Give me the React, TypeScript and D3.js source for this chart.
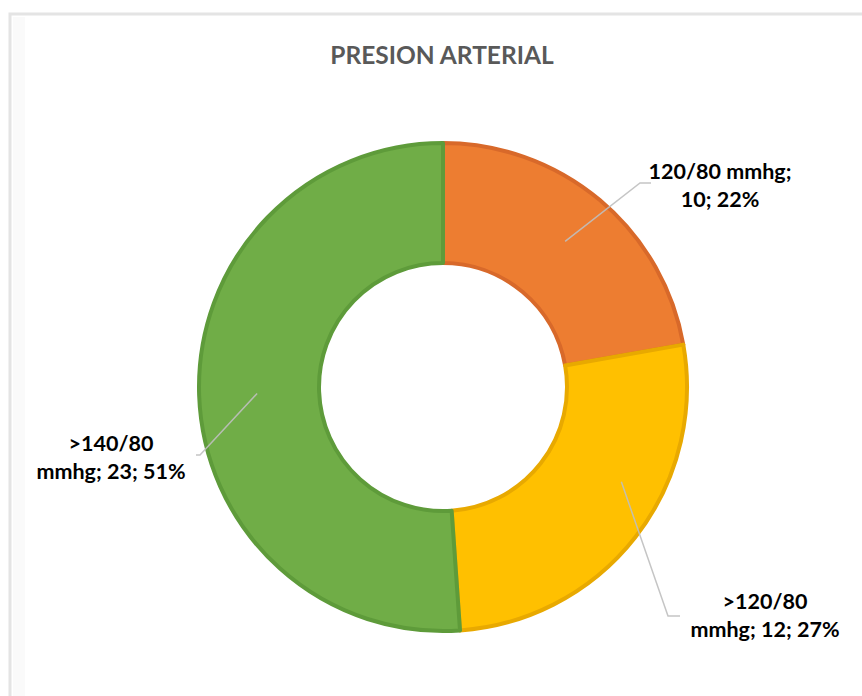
import React from "react";
import * as d3 from "d3";

// Blood pressure groups and patient counts
const categories = ["120/80 mmhg", ">120/80 mmhg", ">140/80 mmhg"];
const counts = [10, 12, 23];
const fills = ["#ED7D31", "#FFC000", "#70AD47"];
const edges = ["#D8692A", "#E8A900", "#5E9B3A"];
const title = "PRESION ARTERIAL";

// Label layout: text lines, centre of the text block, leader elbow
const labelLines = [
  ["120/80 mmhg;", "10; 22%"],
  [">120/80", "mmhg; 12; 27%"],
  [">140/80", "mmhg; 23; 51%"],
];
const labelCenters: [number, number][] = [
  [720, 172],
  [765, 602],
  [111, 444],
];
const leaderElbows: [number, number, number][] = [
  // elbow x, elbow y, end x
  [640, 183, 651],
  [668, 616, 680],
  [200, 455, 196],
];
// leader start: shift from slice mid-angle (degrees) and radius
const leaderStarts: [number, number][] = [
  [0, 190],
  [-10, 202],
  [0, 186],
];

const W = 862;
const H = 696;
const cx = 443;
const cy = 387;
const outerR = 244;
const innerR = 124;

export default function App() {
  const total = d3.sum(counts);
  const pie = d3
    .pie<number>()
    .sort(null)
    .value((d) => d);
  const arcs = pie(counts);
  const arcGen = d3
    .arc<d3.PieArcDatum<number>>()
    .innerRadius(innerR)
    .outerRadius(outerR);

  return (
    <svg
      width={W}
      height={H}
      style={{ position: "absolute", left: 0, top: 0, background: "#fff" }}
      fontFamily="Lato, Carlito, Calibri, sans-serif"
    >
      {/* chart frame */}
      <rect x={10} y={14} width={W + 20} height={H + 20} fill="#fff" stroke="#e4e4e4" strokeWidth={3} />
      <rect x={13} y={17} width={12} height={H} fill="#fafafa" />

      <text x={442} y={64} textAnchor="middle" fontSize={24.5} fontWeight="bold" fill="#595959">
        {title}
      </text>

      <g transform={`translate(${cx},${cy})`}>
        {arcs.map((a, i) => (
          <path
            key={categories[i]}
            d={arcGen(a) || ""}
            fill={fills[i]}
            stroke={edges[i]}
            strokeWidth={4}
            strokeLinejoin="round"
          />
        ))}
      </g>

      {arcs.map((a, i) => {
        const [shift, r] = leaderStarts[i];
        const ang = (a.startAngle + a.endAngle) / 2 + (shift * Math.PI) / 180;
        const sx = cx + r * Math.sin(ang);
        const sy = cy - r * Math.cos(ang);
        const [ex, ey, endX] = leaderElbows[i];
        return (
          <polyline
            key={"leader" + i}
            points={`${sx},${sy} ${ex},${ey} ${endX},${ey}`}
            fill="none"
            stroke="#bfbfbf"
            strokeWidth={1.5}
            opacity={0.9}
          />
        );
      })}

      {labelLines.map((lines, i) => {
        const [lx, ly] = labelCenters[i];
        const pct = Math.round((counts[i] / total) * 100);
        return (
          <text
            key={"label" + i}
            x={lx}
            y={ly}
            textAnchor="middle"
            fontSize={21.5}
            fontWeight="bold"
            fill="#000"
            data-pct={pct}
          >
            {lines.map((ln, j) => (
              <tspan key={j} x={lx} y={ly + 7 + j * 28}>
                {ln}
              </tspan>
            ))}
          </text>
        );
      })}
    </svg>
  );
}
